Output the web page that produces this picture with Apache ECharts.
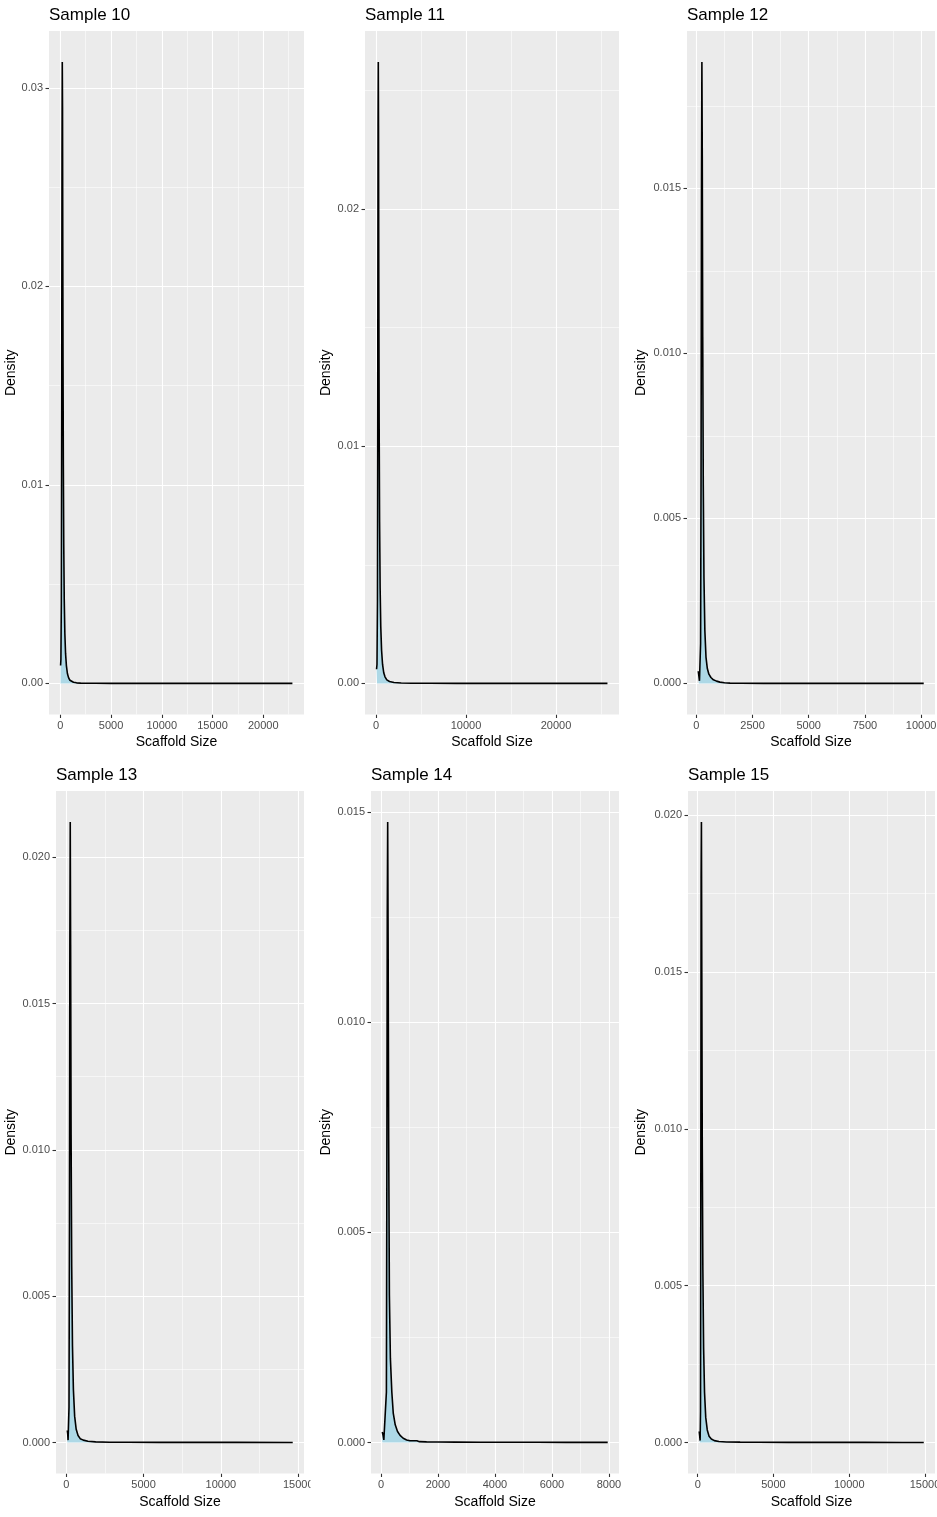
<!DOCTYPE html>
<html>
<head>
<meta charset="utf-8">
<script src="https://cdn.jsdelivr.net/npm/echarts@6/dist/echarts.min.js"></script>
<style>
html, body { margin: 0; padding: 0; background: #ffffff; }
#chart { width: 937px; height: 1517px; }
</style>
</head>
<body>
<div id="chart"></div>
<script>
// ---------------- DATA ----------------
const sampleTitles = ['Sample 10', 'Sample 11', 'Sample 12', 'Sample 13', 'Sample 14', 'Sample 15'];

const s10Size    = [29, 60, 100, 140, 170, 195, 220, 245, 270, 300, 340, 390, 450, 520, 600, 700, 820, 950, 1100, 1300, 1600, 2000, 2600, 3500, 5000, 7000, 10000, 14000, 18000, 22868];
const s10Density = [0.0009, 0.0012, 0.0040, 0.0150, 0.0265, 0.0313, 0.0290, 0.0220, 0.0160, 0.0110, 0.0070, 0.0042, 0.0025, 0.0015, 0.0009, 0.0005, 0.00028, 0.00016, 0.0001, 0.00006, 0.00003, 0.000015, 0.00001, 0.000006, 0.000004, 0.000003, 0.000002, 0.000001, 0.000001, 0.000001];

const s11Size    = [61, 110, 160, 200, 230, 255, 280, 310, 350, 400, 460, 530, 620, 730, 860, 1000, 1200, 1500, 2000, 2800, 4000, 6000, 9000, 13000, 18000, 22000, 25717];
const s11Density = [0.0006, 0.0008, 0.0035, 0.0140, 0.0235, 0.0262, 0.0235, 0.0170, 0.0110, 0.0068, 0.0040, 0.0024, 0.0014, 0.0008, 0.00045, 0.00028, 0.00015, 0.00008, 0.00004, 0.00002, 0.00001, 0.000005, 0.000003, 0.000002, 0.000001, 0.000001, 0.000001];

const s12Size    = [87, 110, 140, 165, 190, 210, 230, 248, 265, 285, 310, 340, 380, 430, 490, 560, 650, 760, 900, 1050, 1250, 1500, 2000, 3000, 4500, 6500, 8500, 10116];
const s12Density = [0.00037, 0.00025, 0.00008, 0.00005, 0.0012, 0.0060, 0.0150, 0.01883, 0.0160, 0.0105, 0.0060, 0.0032, 0.0016, 0.0008, 0.00045, 0.00028, 0.00018, 0.00011, 0.00007, 0.00004, 0.00002, 0.00001, 0.000006, 0.000003, 0.000002, 0.000001, 0.000001, 0.000001];

const s13Size    = [63, 90, 115, 140, 175, 205, 230, 255, 280, 310, 350, 400, 460, 540, 640, 760, 900, 1100, 1400, 1900, 2800, 4000, 6000, 8500, 11000, 14646];
const s13Density = [0.00041, 0.0003, 0.00008, 0.00006, 0.0012, 0.0075, 0.0170, 0.0212, 0.0170, 0.0105, 0.0060, 0.0033, 0.0018, 0.0009, 0.00045, 0.00024, 0.00013, 0.00008, 0.00004, 0.00002, 0.00001, 0.000006, 0.000004, 0.000003, 0.000002, 0.000001];

const s14Size    = [45, 70, 100, 140, 170, 190, 205, 220, 235, 250, 270, 295, 330, 380, 430, 500, 580, 670, 780, 900, 1020, 1150, 1200, 1260, 1350, 1600, 2000, 2600, 3500, 4500, 5500, 6500, 7956];
const s14Density = [0.00025, 0.00018, 0.00006, 0.00005, 0.00008, 0.0012, 0.0060, 0.0125, 0.01476, 0.0120, 0.0072, 0.0035, 0.0020, 0.0012, 0.0007, 0.00042, 0.00026, 0.00017, 0.0001, 0.00006, 0.00004, 0.00004, 0.00006, 0.00004, 0.00002, 0.000015, 0.00001, 0.000008, 0.000006, 0.000005, 0.000004, 0.000003, 0.000002];

const s15Size    = [100, 130, 160, 185, 205, 225, 245, 270, 300, 340, 390, 450, 530, 630, 750, 900, 1100, 1400, 1900, 2800, 4000, 6000, 8500, 11000, 13500, 14920];
const s15Density = [0.00035, 0.00022, 0.00006, 0.0010, 0.0080, 0.0180, 0.01978, 0.0150, 0.0095, 0.0055, 0.0030, 0.0016, 0.0008, 0.0004, 0.0002, 0.00011, 0.00006, 0.00003, 0.000015, 0.00001, 0.000006, 0.000004, 0.000003, 0.000002, 0.000001, 0.000001];

// tick labels (major) and minor gridline positions
const s10XTicks = [0, 5000, 10000, 15000, 20000];
const s10XMinor = [2500, 7500, 12500, 17500, 22500];
const s10YTicks = [0, 0.01, 0.02, 0.03];
const s10YMinor = [0.005, 0.015, 0.025];

const s11XTicks = [0, 10000, 20000];
const s11XMinor = [5000, 15000, 25000];
const s11YTicks = [0, 0.01, 0.02];
const s11YMinor = [0.005, 0.015, 0.025];

const s12XTicks = [0, 2500, 5000, 7500, 10000];
const s12XMinor = [1250, 3750, 6250, 8750];
const s12YTicks = [0, 0.005, 0.010, 0.015];
const s12YMinor = [0.0025, 0.0075, 0.0125, 0.0175];

const s13XTicks = [0, 5000, 10000, 15000];
const s13XMinor = [2500, 7500, 12500];
const s13YTicks = [0, 0.005, 0.010, 0.015, 0.020];
const s13YMinor = [0.0025, 0.0075, 0.0125, 0.0175];

const s14XTicks = [0, 2000, 4000, 6000, 8000];
const s14XMinor = [1000, 3000, 5000, 7000];
const s14YTicks = [0, 0.005, 0.010, 0.015];
const s14YMinor = [0.0025, 0.0075, 0.0125];

const s15XTicks = [0, 5000, 10000, 15000];
const s15XMinor = [2500, 7500, 12500];
const s15YTicks = [0, 0.005, 0.010, 0.015, 0.020];
const s15YMinor = [0.0025, 0.0075, 0.0125, 0.0175];

const yDecimals = [2, 2, 3, 3, 3, 3];

// ---------------- LAYOUT / STYLE ----------------
const FONT = "'Liberation Sans', Arial, Helvetica, sans-serif";
const panels = [
  { size: s10Size, dens: s10Density, xt: s10XTicks, xm: s10XMinor, yt: s10YTicks, ym: s10YMinor },
  { size: s11Size, dens: s11Density, xt: s11XTicks, xm: s11XMinor, yt: s11YTicks, ym: s11YMinor },
  { size: s12Size, dens: s12Density, xt: s12XTicks, xm: s12XMinor, yt: s12YTicks, ym: s12YMinor },
  { size: s13Size, dens: s13Density, xt: s13XTicks, xm: s13XMinor, yt: s13YTicks, ym: s13YMinor },
  { size: s14Size, dens: s14Density, xt: s14XTicks, xm: s14XMinor, yt: s14YTicks, ym: s14YMinor },
  { size: s15Size, dens: s15Density, xt: s15XTicks, xm: s15XMinor, yt: s15YTicks, ym: s15YMinor }
];
const layout = [
  { left: 49,  top: 31,  width: 255, height: 683.5, col: 0,   xGap: 21 },
  { left: 365, top: 31,  width: 254, height: 683.5, col: 315, xGap: 21 },
  { left: 687, top: 31,  width: 248, height: 683.5, col: 630, xGap: 21 },
  { left: 56,  top: 791, width: 248, height: 682.5, col: 0,   xGap: 22 },
  { left: 371, top: 791, width: 248, height: 682.5, col: 315, xGap: 22 },
  { left: 688, top: 791, width: 247, height: 682.5, col: 630, xGap: 22 }
];

const grids = [], xAxes = [], yAxes = [], series = [], titles = [];

panels.forEach((p, i) => {
  const L = layout[i];
  const xMin = Math.min(...p.size), xMax = Math.max(...p.size);
  const xr = xMax - xMin;
  const yMax = Math.max(...p.dens);
  const ext = { x0: xMin - 0.05 * xr, x1: xMax + 0.05 * xr, y0: -0.05 * yMax, y1: 1.05 * yMax };

  grids.push({
    left: L.left, top: L.top, width: L.width, height: L.height,
    show: true, backgroundColor: '#EBEBEB', borderWidth: 0,
    containLabel: false, outerBoundsMode: 'none'
  });
  titles.push({
    text: sampleTitles[i], left: L.left, top: L.top - 24, padding: 0,
    textStyle: { fontFamily: FONT, fontSize: 17, fontWeight: 'normal', color: '#000000' }
  });
  const inX = v => v >= ext.x0 && v <= ext.x1;
  const inY = v => v >= ext.y0 && v <= ext.y1;

  xAxes.push({
    type: 'value', gridIndex: i, min: ext.x0, max: ext.x1, position: 'bottom',
    name: 'Scaffold Size', nameLocation: 'middle', nameGap: L.xGap, nameMoveOverlap: false,
    nameTextStyle: { fontFamily: FONT, fontSize: 14, color: '#000000' },
    axisLine: { show: false, onZero: false },
    splitLine: { show: false },
    minorSplitLine: { show: false },
    axisTick: { show: true, inside: false, customValues: p.xt.filter(inX), length: 3.5, lineStyle: { color: '#333333', width: 1.1 } },
    axisLabel: { customValues: p.xt.filter(inX), formatter: v => String(Math.round(v)),
      fontFamily: FONT, fontSize: 11, color: '#4D4D4D', margin: 5.5, hideOverlap: false }
  });
  yAxes.push({
    type: 'value', gridIndex: i, min: ext.y0, max: ext.y1, position: 'left',
    name: 'Density', nameLocation: 'middle', nameGap: L.left - (L.col + 18), nameMoveOverlap: false,
    nameTextStyle: { fontFamily: FONT, fontSize: 14, color: '#000000' },
    axisLine: { show: false, onZero: false },
    splitLine: { show: false },
    minorSplitLine: { show: false },
    axisTick: { show: true, inside: false, customValues: p.yt.filter(inY), length: 3.5, lineStyle: { color: '#333333', width: 1.1 } },
    axisLabel: { customValues: p.yt.filter(inY), formatter: v => Number(v).toFixed(yDecimals[i]),
      fontFamily: FONT, fontSize: 11, color: '#4D4D4D', margin: 6, hideOverlap: false }
  });

  const major = { color: '#FFFFFF', width: 1.1, type: 'solid' };
  const minor = { color: '#FFFFFF', width: 0.55, type: 'solid' };
  const gridLines = []
    .concat(p.xm.filter(inX).map(v => ({ xAxis: v, lineStyle: minor })))
    .concat(p.ym.filter(inY).map(v => ({ yAxis: v, lineStyle: minor })))
    .concat(p.xt.filter(inX).map(v => ({ xAxis: v, lineStyle: major })))
    .concat(p.yt.filter(inY).map(v => ({ yAxis: v, lineStyle: major })));

  series.push({
    type: 'line', name: sampleTitles[i], xAxisIndex: i, yAxisIndex: i,
    data: p.size.map((x, k) => [x, p.dens[k]]),
    showSymbol: false, symbol: 'none', smooth: false, silent: true, z: 3,
    lineStyle: { color: '#000000', width: 1.6 },
    areaStyle: { color: '#ADD8E6', opacity: 1, origin: 'auto' },
    markLine: {
      silent: true, symbol: ['none', 'none'], z: 1, animation: false, precision: 12,
      label: { show: false }, emphasis: { disabled: true },
      data: gridLines
    }
  });
});

const chart = echarts.init(document.getElementById('chart'), null, { renderer: 'canvas' });
chart.setOption({
  animation: false,
  backgroundColor: '#FFFFFF',
  title: titles,
  grid: grids,
  xAxis: xAxes,
  yAxis: yAxes,
  series: series,
  graphic: [
    // emulate subplot viewport clipping of the last tick label of Sample 13
    { type: 'rect', left: 310.5, top: 1476, shape: { width: 10, height: 20 }, style: { fill: '#FFFFFF' }, z: 100 }
  ]
});
</script>
</body>
</html>
